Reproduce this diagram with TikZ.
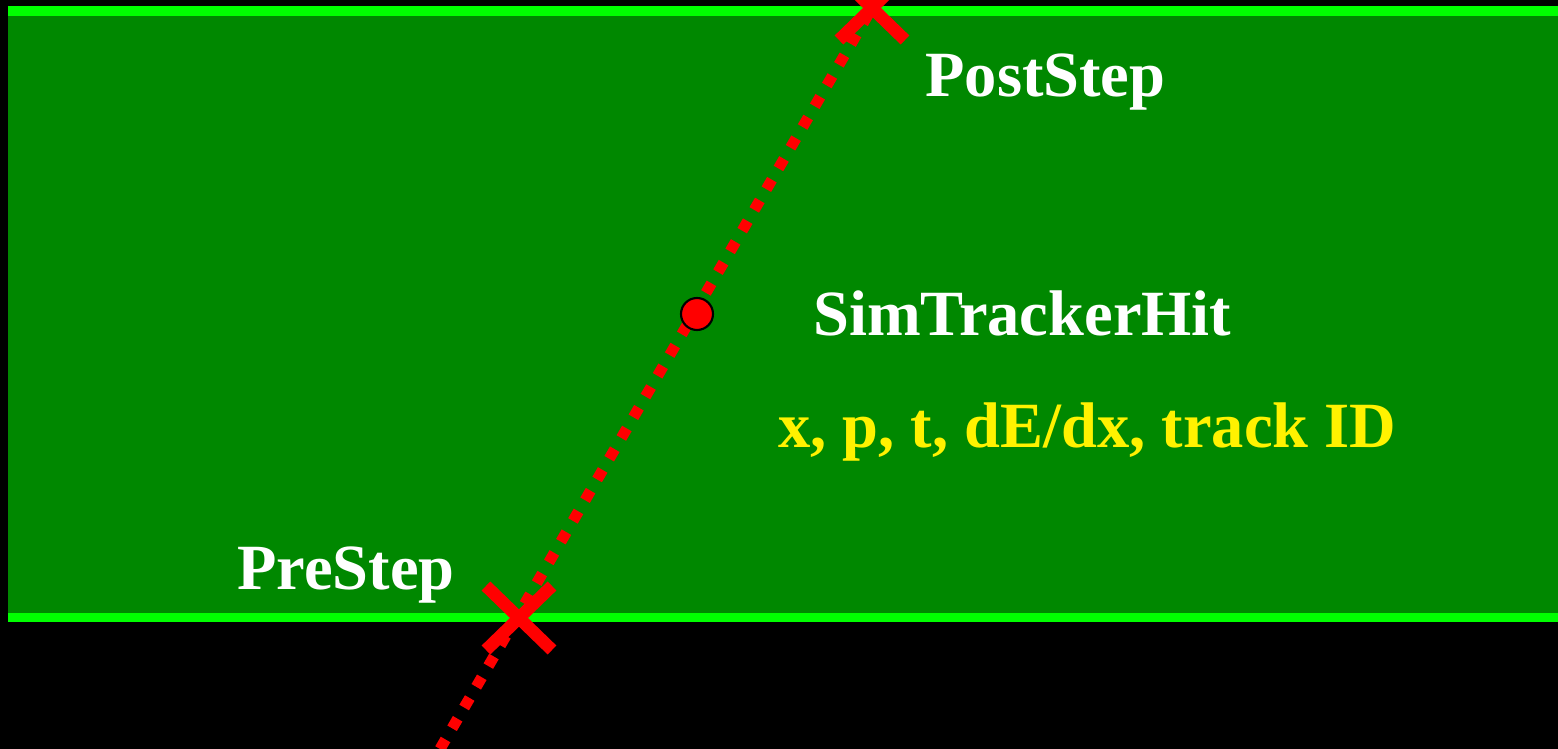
\documentclass[tikz,border=0pt]{standalone}
\usepackage{fontspec}
\setmainfont{Liberation Serif}
\definecolor{detgreen}{RGB}{0,136,0}
\definecolor{edgegreen}{RGB}{0,255,0}
\begin{document}
\begin{tikzpicture}[
  band/.style={fill=edgegreen},
  track/.style={draw=red,line width=0.22cm,dash pattern=on 0.22cm off 0.26cm},
  cross/.style={draw=red,line width=0.25cm},
  label/.style={font=\bfseries\fontsize{36.7}{40}\selectfont,text=white,anchor=base west,inner sep=0pt},
  info/.style={label,text=yellow},
]
\fill[black] (0,0) rectangle (31.16,14.98);
\useasboundingbox (0,0) rectangle (31.16,14.98);
% sensitive layer
\fill[detgreen] (0.16,2.54) rectangle (31.16,14.86);
\fill[band] (0.16,14.66) rectangle (31.16,14.86);
\fill[band] (0.16,2.54) rectangle (31.16,2.72);
% step points
\coordinate (entry) at (8.8,0);
\coordinate (pre) at (10.38,2.62);
\coordinate (post) at (17.44,14.82);
\draw[track] (entry) -- (post);
\foreach \p in {pre,post}{
  \draw[cross] ([shift={(-0.66,0.64)}]\p) -- ([shift={(0.66,-0.64)}]\p);
  \draw[cross] ([shift={(-0.66,-0.64)}]\p) -- ([shift={(0.66,0.64)}]\p);
}
\node[circle,fill=red,draw=black,line width=1.2pt,minimum size=0.64cm,inner sep=0pt] (hit) at (13.94,8.70) {};
\node[label] (poststep) at (18.50,13.04) {PostStep};
\node[label] (simhit) at (16.26,8.26) {SimTrackerHit};
\node[info] (content) at (15.56,6.02) {x, p, t, dE/dx, track ID};
\node[label] (prestep) at (4.74,3.18) {PreStep};
\end{tikzpicture}
\end{document}
